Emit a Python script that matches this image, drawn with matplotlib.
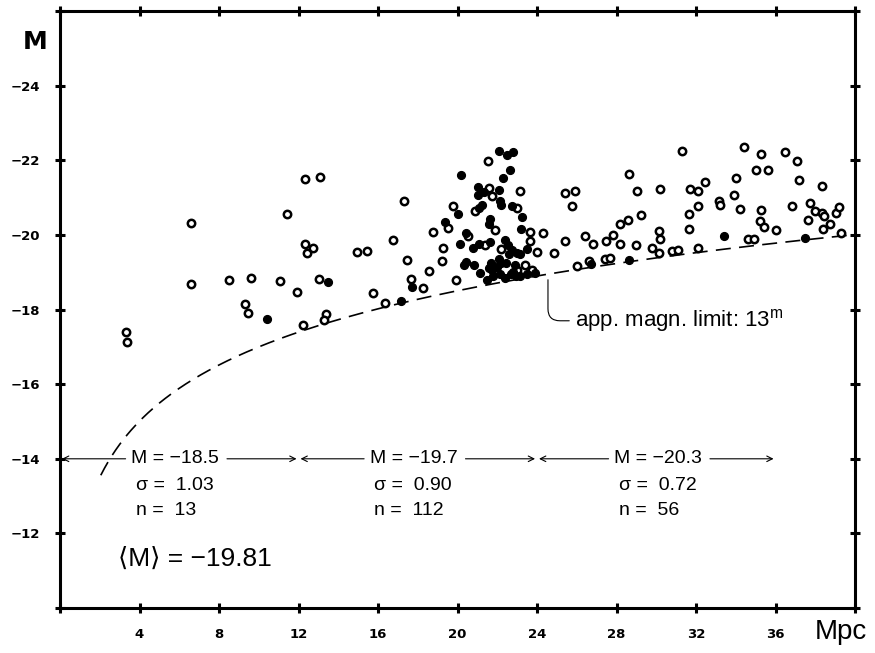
import numpy as np
import matplotlib
matplotlib.use("Agg")
import matplotlib.pyplot as plt

# galaxies below the magnitude limit (distance in Mpc, absolute magnitude M)
open_d = [3.34, 3.36, 6.58, 6.58, 8.50, 9.30, 9.47, 9.62, 11.06, 11.43, 11.93,
          12.22, 12.33, 12.33, 12.43, 12.72, 13.04, 13.09, 13.37, 13.27, 14.94,
          15.43, 15.73, 16.35, 16.75, 17.32, 17.44, 17.64, 18.27, 18.54, 18.79,
          19.24, 19.29, 19.51, 19.79, 19.93, 21.54, 21.60, 21.74, 23.14, 20.90,
          23.01, 21.87, 23.66, 24.30, 20.52, 23.64, 21.39, 22.19, 24.00, 24.85,
          23.01, 23.41, 23.73,
          25.39, 25.89, 25.77, 25.39, 26.39, 26.82, 26.00, 26.59, 27.44, 27.66,
          27.49, 27.80, 28.16, 28.18, 28.58, 28.61, 28.97, 29.05, 29.23, 29.78,
          30.14, 30.20, 30.14, 30.17, 30.81, 31.07, 31.29, 31.66, 31.66, 31.68,
          32.08, 32.11, 32.09, 32.43, 33.18, 33.23, 33.89, 34.00, 34.19, 34.40,
          34.60, 34.94, 35.04, 35.24, 35.27, 35.27, 35.41, 35.61, 36.03, 36.46,
          36.85, 37.08, 37.20, 37.62, 37.75, 37.99, 38.32, 38.32, 38.42, 38.37,
          38.74, 39.04, 39.19, 39.27]
open_m = [-17.40, -17.12, -20.32, -18.69, -18.79, -18.15, -17.92, -18.84, -18.76, -20.55, -18.47,
          -17.60, -21.49, -19.75, -19.53, -19.66, -18.81, -21.56, -17.87, -17.73, -19.54,
          -19.57, -18.45, -18.18, -19.87, -20.90, -19.34, -18.82, -18.59, -19.04, -20.07,
          -19.29, -19.64, -20.18, -20.78, -18.79, -21.98, -21.27, -21.05, -21.18, -20.64,
          -20.71, -20.14, -20.09, -20.06, -19.96, -19.85, -19.73, -19.62, -19.54, -19.51,
          -19.07, -19.20, -19.07,
          -21.13, -21.19, -20.78, -19.84, -19.96, -19.76, -19.18, -19.31, -19.35, -19.37,
          -19.84, -20.01, -20.29, -19.75, -20.40, -21.63, -19.72, -21.17, -20.54, -19.65,
          -20.12, -19.89, -19.51, -21.23, -19.56, -19.60, -22.25, -20.17, -20.57, -21.24,
          -20.79, -21.18, -19.65, -21.41, -20.92, -20.81, -21.06, -21.54, -20.70, -22.35,
          -19.90, -19.90, -21.73, -20.38, -20.67, -22.17, -20.22, -21.75, -20.13, -22.23,
          -20.79, -21.98, -21.48, -20.41, -20.87, -20.63, -21.30, -20.60, -20.51, -20.16,
          -20.29, -20.58, -20.74, -20.06]

filled_d = [10.39, 13.49, 17.17, 17.69, 19.39, 20.03,
            22.07, 22.51, 22.79, 20.18, 22.64, 22.30, 21.02, 21.32, 22.07, 21.02,
            22.14, 22.19, 21.25, 21.10, 22.74, 23.24, 21.64, 21.60, 23.19, 20.45,
            20.10, 20.77, 21.10, 21.64, 22.41, 22.54, 22.73, 22.98, 23.14, 23.51,
            20.30, 20.42, 20.82, 21.13, 21.47, 21.67, 21.57, 22.10, 22.00, 22.19,
            22.44, 22.58, 22.88, 22.81, 22.94, 23.90, 22.14, 22.39, 22.68, 23.14,
            23.48, 21.80, 21.75,
            26.71, 28.63, 33.40, 37.48]
filled_m = [-17.75, -18.74, -18.22, -18.61, -20.35, -20.57,
            -22.26, -22.14, -22.22, -21.60, -21.74, -21.54, -21.28, -21.15, -21.20, -21.07,
            -20.90, -20.81, -20.81, -20.71, -20.78, -20.49, -20.42, -20.29, -20.16, -20.05,
            -19.76, -19.66, -19.76, -19.82, -19.87, -19.73, -19.60, -19.51, -19.49, -19.63,
            -19.20, -19.27, -19.20, -18.98, -18.80, -19.26, -19.11, -19.35, -19.14, -19.25,
            -19.25, -19.49, -19.20, -19.02, -18.89, -18.98, -18.96, -18.84, -18.96, -18.89,
            -18.96, -18.90, -19.05,
            -19.21, -19.33, -19.96, -19.92]

# apparent magnitude limit (13m) -> M = m - 25 - 5 log10(D[Mpc])
app_limit = 13.0
limit_start, limit_end = 2.05, 40.0

# distance bins and their statistics
bin_edges = [0, 12, 24, 36]
bin_mean = ["−18.5", "−19.7", "−20.3"]
bin_sigma = ["1.03", "0.90", "0.72"]
bin_n = ["13", "112", "56"]
mean_all = "−19.81"

xticks = list(range(0, 41, 4))
xticklabels = [""] + [str(v) for v in range(4, 37, 4)] + [""]
yticks = list(range(-26, -9, 2))
yticklabels = ["", "−24", "−22", "−20", "−18", "−16", "−14", "−12", ""]

TXT = ["Liberation Sans", "DejaVu Sans"]
plt.rcParams["mathtext.fontset"] = "custom"
plt.rcParams["mathtext.rm"] = "Liberation Sans"

fig = plt.figure(figsize=(8.75, 6.53), dpi=100)
ax = fig.add_axes([0.0686, 0.0689, 0.9086, 0.914])

ax.set_xlim(0, 40)
ax.set_ylim(-10, -26)

for s in ax.spines.values():
    s.set_linewidth(2.2)

ax.set_xticks(xticks)
ax.set_xticklabels(xticklabels)
ax.set_yticks(yticks)
ax.set_yticklabels(yticklabels)
ax.tick_params(direction="inout", length=7, width=2.2, top=True, right=True,
               labelsize=9.5, pad=11)
for lab in ax.get_xticklabels() + ax.get_yticklabels():
    lab.set_fontfamily("DejaVu Sans")
    lab.set_fontweight("bold")

# magnitude limit curve
dd = np.linspace(limit_start, limit_end, 400)
ax.plot(dd, app_limit - 25 - 5 * np.log10(dd), color="black", lw=1.2,
        dashes=(9, 5), zorder=2)

ax.plot(open_d, open_m, "o", ms=5.3, mfc="white", mec="black", mew=1.8, zorder=3)
ax.plot(filled_d, filled_m, "o", ms=5.6, mfc="black", mec="black", mew=1, zorder=4)

# bin annotations
text_cx = [5.8, 17.8, 30.1]
half_w = 2.2
for i in range(3):
    x0, x1 = bin_edges[i], bin_edges[i + 1]
    cx = text_cx[i]
    ax.text(cx, -14, "M = " + bin_mean[i], ha="center", va="center",
            fontsize=14, family=TXT)
    ax.annotate("", xy=(x0 + 0.1, -14), xytext=(cx - half_w - 0.3, -14),
                arrowprops=dict(arrowstyle="->", lw=0.8, shrinkA=0, shrinkB=0))
    ax.annotate("", xy=(x1 - 0.1, -14), xytext=(cx + half_w + 0.4, -14),
                arrowprops=dict(arrowstyle="->", lw=0.8, shrinkA=0, shrinkB=0))
    lx = cx - half_w + 0.2
    ax.text(lx, -13.28, "σ =  " + bin_sigma[i], ha="left", va="center",
            fontsize=14, family=TXT)
    ax.text(lx, -12.61, "n =  " + bin_n[i], ha="left", va="center",
            fontsize=14, family=TXT)

ax.text(2.9, -11.33, "⟨M⟩ = " + mean_all, ha="left", va="center",
        fontsize=19, family=TXT)

ax.annotate("app. magn. limit: 13$^{\\mathrm{m}}$", xy=(24.55, -18.8),
            xytext=(25.9, -17.7), ha="left", va="center", fontsize=16,
            family=TXT,
            arrowprops=dict(arrowstyle="-", lw=0.8, shrinkA=2, shrinkB=0,
                            connectionstyle="angle,angleA=0,angleB=-90,rad=12"))

fig.text(35 / 875, 1 - 42 / 653, "M", ha="center", va="center",
         fontsize=18, fontweight="bold", family="DejaVu Sans")
fig.text(841 / 875, 1 - 632 / 653, "Mpc", ha="center", va="center",
         fontsize=20, family=TXT)

fig.savefig("out.png", dpi=100)
